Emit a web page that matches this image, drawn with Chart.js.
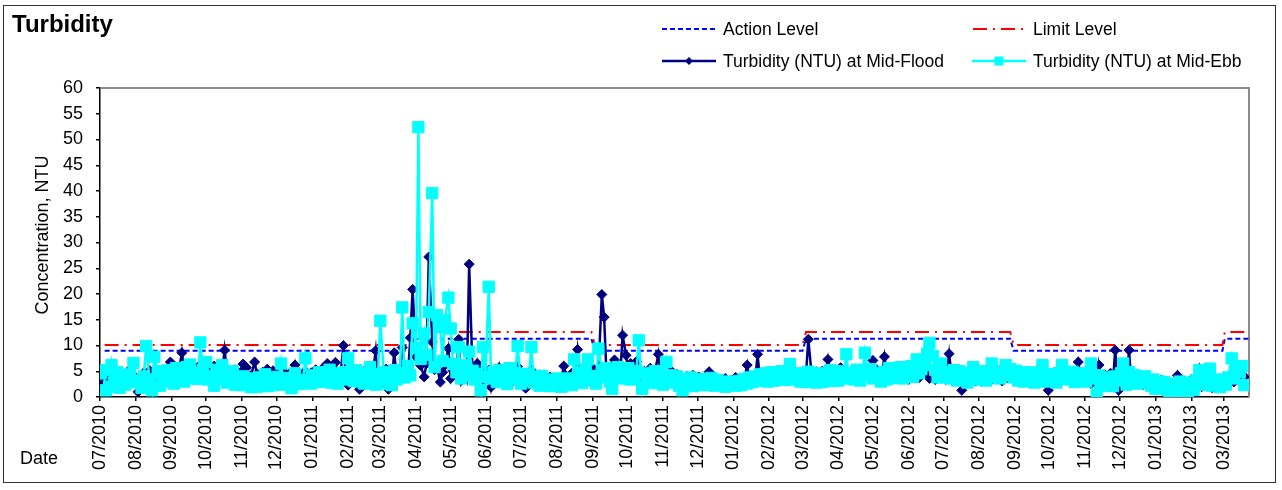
<!DOCTYPE html>
<html>
<head>
<meta charset="utf-8">
<script src="https://cdn.jsdelivr.net/npm/chart.js@4/dist/chart.umd.min.js"></script>
<style>
html,body{margin:0;padding:0;background:#fff;}
#wrap{position:relative;width:1282px;height:490px;overflow:hidden;font-family:'Liberation Sans',Arial,sans-serif;color:#000;}
#c{position:absolute;left:0;top:0;}
#frame{position:absolute;left:3px;top:5px;width:1271px;height:476px;border:1.5px solid #333;pointer-events:none;}
#title{position:absolute;left:12px;top:12px;font-weight:bold;font-size:24px;line-height:24px;}
.leg{position:absolute;height:20px;font-size:17.5px;display:flex;align-items:center;white-space:nowrap;}
.leg svg{margin-right:6px;}
#dateLabel{position:absolute;left:20px;top:447px;font-size:18px;line-height:22px;}
#yTitle{position:absolute;left:42px;top:235px;font-size:18px;line-height:22px;white-space:nowrap;transform:translate(-50%,-50%) rotate(-90deg);}
</style>
</head>
<body>
<div id="wrap">
  <canvas id="c" width="1282" height="490"></canvas>
  <div id="frame"></div>
  <div id="title">Turbidity</div>
  <div class="leg" style="left:661px;top:19px;"><svg width="56" height="14"><line x1="1" y1="7" x2="55" y2="7" stroke="#0000FF" stroke-width="2" stroke-dasharray="5,3"/></svg>Action Level</div>
  <div class="leg" style="left:971px;top:19px;"><svg width="56" height="14"><line x1="2" y1="7" x2="55" y2="7" stroke="#FF0000" stroke-width="2" stroke-dasharray="14,6,2,6"/></svg>Limit Level</div>
  <div class="leg" style="left:661px;top:51px;"><svg width="56" height="14"><line x1="1" y1="7" x2="55" y2="7" stroke="#000080" stroke-width="2.5"/><polygon points="28,3 32,7 28,11 24,7" fill="#000080"/></svg>Turbidity (NTU) at Mid-Flood</div>
  <div class="leg" style="left:971px;top:51px;"><svg width="56" height="14"><line x1="1" y1="7" x2="55" y2="7" stroke="#00FFFF" stroke-width="2.5"/><rect x="23.5" y="2.5" width="9" height="9" fill="#00FFFF"/></svg>Turbidity (NTU) at Mid-Ebb</div>
  <div id="dateLabel">Date</div>
  <div id="yTitle">Concentration, NTU</div>
</div>
<script>
// ---- Tick labels (months) and their day offsets from 2010-07-01 ----
const monthLabels = ['07/2010','08/2010','09/2010','10/2010','11/2010','12/2010',
  '01/2011','02/2011','03/2011','04/2011','05/2011','06/2011','07/2011','08/2011','09/2011','10/2011','11/2011','12/2011',
  '01/2012','02/2012','03/2012','04/2012','05/2012','06/2012','07/2012','08/2012','09/2012','10/2012','11/2012','12/2012',
  '01/2013','02/2013','03/2013'];
const monthStartDays = [0,31,62,92,123,153,184,215,243,274,304,335,365,396,427,457,488,518,549,580,609,640,670,701,731,762,793,823,854,884,915,946,974];
const axisEndDay = 996;

// ---- Sampling schedule: three surveys per week ----
const weeksSampled = 142;
const surveyDaysInWeek = [1, 3, 5];
const sampleDays = [];
for (let w = 0; w < weeksSampled; w++) for (const d of surveyDaysInWeek) sampleDays.push(w * 7 + d);

// ---- Turbidity at Mid-Flood (NTU), one row = 4 weeks ----
const midFlood = [
 2.3,4.5,3.0, 3.6,2.0,4.1, 2.8,4.4,1.9, 3.4,4.9,2.6,
 4.2,2.8,1.0, 3.0,4.7,2.4, 5.1,2.2,3.5, 2.6,4.9,3.8,
 4.5,3.1,6.8, 5.5,3.2,4.6, 8.6,5.2,3.7, 4.4,6.0,3.9,
 5.8,4.1,6.3, 4.6,5.9,4.0, 6.0,3.8,5.6, 4.9,9.1,5.0,
 4.3,3.4,5.3, 3.6,4.8,6.4, 5.7,3.7,4.2, 6.8,4.5,3.3,
 4.8,3.0,5.4, 3.3,5.1,3.9, 4.2,3.1,5.0, 3.6,4.5,2.7,
 6.2,3.4,4.5, 3.2,5.0,3.9, 4.7,3.5,5.3, 3.6,4.3,5.8,
 6.5,3.9,4.6, 6.7,4.2,3.3, 10.0,4.6,2.3, 3.2,4.8,2.8,
 1.5,3.7,5.0, 4.4,2.6,3.8, 9.0,3.4,2.6, 4.1,5.4,1.5,
 3.3,8.6,4.4, 5.6,9.6,6.2, 4.5,11.5,20.9, 7.8,8.8,6.1,
 3.9,6.5,27.2, 10.7,5.3,6.0, 2.9,4.8,6.2, 9.4,3.6,5.1,
 4.4,11.2,3.2, 5.6,3.8,25.8, 4.2,3.5,6.5, 3.0,5.4,3.6,
 5.2,1.9,4.4, 3.3,5.7,2.8, 4.6,3.2,5.3, 3.1,4.2,5.9,
 4.4,3.6,1.7, 3.8,5.2,2.9, 2.6,4.3,3.5, 3.2,2.5,3.9,
 2.8,3.6,2.2, 3.3,6.0,4.1, 3.0,4.6,3.4, 9.2,5.0,3.6,
 4.4,6.2,3.1, 5.4,3.5,4.8, 19.9,15.5,4.6, 3.3,5.5,7.2,
 6.1,4.4,12.0, 8.1,5.3,6.5, 4.6,6.9,5.2, 3.7,5.0,4.2,
 5.6,3.6,4.8, 8.3,4.1,3.2, 4.6,3.4,5.1, 3.0,4.4,2.7,
 3.6,2.6,4.0, 2.8,4.2,3.3, 3.9,2.5,3.4, 3.0,4.9,2.8,
 3.5,2.4,3.1, 2.7,3.6,2.3, 3.2,2.5,3.8, 2.4,3.4,2.9,
 6.2,3.1,3.9, 3.3,8.3,3.6, 4.2,2.9,3.7, 3.0,4.4,3.3,
 4.6,3.4,4.0, 3.1,4.2,3.5, 4.0,3.2,4.7, 3.6,4.4,11.2,
 4.1,3.3,4.9, 3.4,5.0,3.8, 7.3,4.2,5.2, 4.8,3.6,5.7,
 3.5,4.6,3.9, 5.1,3.4,4.6, 3.8,5.4,4.1, 4.4,3.6,7.1,
 5.3,4.0,3.3, 7.8,4.5,3.7, 4.1,5.5,3.6, 5.0,3.8,4.6,
 3.4,5.6,4.2, 4.8,3.7,5.9, 5.4,4.5,3.6, 4.9,3.4,6.0,
 4.2,5.6,3.5, 8.4,4.6,3.2, 4.0,5.3,1.3, 3.3,4.5,2.8,
 4.4,3.1,5.0, 3.0,4.7,3.6, 4.9,3.4,5.2, 3.6,4.8,3.1,
 5.2,3.7,4.6, 3.4,4.9,3.0, 4.4,2.9,4.0, 3.1,4.6,2.7,
 4.2,3.3,5.0, 3.5,1.3,4.3, 4.8,3.2,3.9, 3.3,5.2,3.7,
 4.5,3.0,4.1, 6.8,3.8,4.4, 3.2,4.8,2.6, 3.9,0.2,6.2,
 2.8,4.3,3.4, 4.6,2.5,9.1, 1.3,3.6,4.4, 3.0,9.1,2.8,
 4.2,2.6,3.5, 2.4,3.8,2.2, 3.4,2.0,3.1, 2.2,3.3,1.6,
 2.8,1.4,2.5, 1.8,4.2,2.0, 2.6,1.5,0.2, 3.4,2.2,2.9,
 5.5,2.0,3.2, 2.4,3.6,1.8, 3.1,2.2,2.8, 2.5,3.8,2.6,
 4.6,2.9,3.6, 3.2,4.4,3.9
];

// ---- Turbidity at Mid-Ebb (NTU), one row = 4 weeks ----
const midEbb = [
 4.6,5.2,1.3, 2.0,6.2,2.8, 4.8,1.8,3.3, 2.4,3.9,4.4,
 6.6,2.9,3.2, 1.8,4.0,9.9, 3.4,1.3,7.8, 4.6,2.2,5.0,
 3.0,5.2,4.1, 2.6,5.6,3.8, 4.4,3.0,5.8, 6.3,3.6,4.7,
 3.5,10.6,5.2, 6.8,3.4,4.1, 2.2,5.3,3.6, 6.2,4.3,2.8,
 3.9,5.0,2.4, 3.2,2.3,4.0, 2.5,3.6,1.9, 3.0,2.0,3.8,
 2.6,4.4,2.1, 3.5,2.3,3.9, 2.8,6.5,2.4, 3.7,2.6,1.7,
 4.6,3.0,2.5, 3.3,7.5,3.0, 2.6,4.2,3.4, 4.8,2.9,3.6,
 3.2,5.3,2.8, 4.0,2.6,4.6, 3.4,4.8,7.5, 4.2,3.1,5.2,
 3.0,4.6,2.6, 3.7,5.8,3.2, 2.4,4.4,14.8, 4.8,3.3,2.5,
 2.3,5.2,3.4, 4.6,17.4,3.8, 6.0,4.2,14.3, 9.5,52.4,7.4,
 12.3,8.2,16.5, 39.6,5.8,15.9, 13.6,7.0,14.9, 19.3,13.3,6.4,
 4.8,9.7,3.6, 6.2,4.2,8.8, 5.1,3.4,4.5, 1.3,9.7,3.9,
 21.4,3.6,4.8, 2.9,5.2,3.4, 4.3,2.5,5.6, 3.5,4.7,9.9,
 2.6,4.4,3.1, 4.5,9.7,2.8, 3.8,2.2,4.1, 2.7,3.4,2.1,
 3.2,2.4,3.6, 2.0,3.0,2.6, 3.6,2.3,7.3, 3.3,4.8,2.7,
 5.3,7.3,3.4, 4.1,2.6,9.4, 5.2,3.8,5.6, 3.0,1.6,4.4,
 5.8,3.6,4.9, 4.2,5.6,3.4, 3.8,5.0,11.0, 1.6,4.6,3.2,
 3.9,2.7,5.0, 4.4,3.1,2.4, 6.8,3.3,4.2, 2.8,4.0,2.2,
 1.3,3.4,2.6, 3.8,2.1,3.2, 2.6,3.5,2.3, 3.1,2.4,3.7,
 2.2,3.3,2.7, 2.9,2.0,3.0, 2.4,2.8,2.2, 3.1,2.3,3.5,
 2.6,3.8,2.9, 4.0,3.1,4.4, 3.4,4.6,3.0, 4.8,3.2,4.1,
 3.6,5.0,3.3, 4.3,6.4,3.7, 3.4,4.6,3.0, 4.2,2.9,4.9,
 3.3,4.5,2.8, 4.6,2.9,4.0, 3.5,5.2,3.1, 4.4,3.2,5.0,
 4.0,8.3,3.6, 4.7,3.4,5.3, 3.2,4.8,8.6, 4.2,5.4,3.6,
 3.8,4.6,3.0, 4.9,3.4,5.6, 3.7,5.2,4.3, 5.8,3.6,4.5,
 4.2,6.0,3.9, 7.3,4.6,5.4, 6.2,8.4,10.5, 8.0,5.3,3.8,
 6.5,3.8,4.8, 4.4,3.6,5.2, 3.2,5.0,3.6, 4.6,2.8,4.2,
 5.8,3.4,4.7, 3.6,5.0,3.2, 4.4,6.5,3.8, 5.0,3.6,4.5,
 6.2,4.2,5.4, 3.8,5.1,3.2, 4.6,3.0,4.8, 3.4,4.3,2.8,
 4.8,3.2,6.2, 3.0,4.4,3.6, 4.2,2.8,4.6, 6.2,3.6,4.4,
 3.4,4.9,2.9, 4.5,3.2,4.6, 3.0,4.2,6.5, 3.6,0.5,4.2,
 2.6,3.8,2.2, 3.4,2.1,4.0, 3.2,4.6,6.5, 2.4,4.8,3.6,
 4.2,2.6,3.8, 2.8,4.0,3.2, 2.2,3.4,1.6, 3.0,1.8,2.9,
 1.4,0.5,2.4, 2.6,1.2,3.0, 1.5,2.6,1.0, 2.8,1.4,3.2,
 5.2,2.4,3.6, 3.0,5.5,2.2, 2.4,3.4,1.9, 3.3,2.4,3.8,
 7.5,3.6,5.2, 4.8,6.0,2.3
];

// ---- Action / Limit levels (NTU) at change-over days ----
const levelDays   = [4, 271, 274, 426, 429, 609, 612, 789, 792, 973, 975, 996];
const actionLevel = [9.0, 9.0, 11.3, 11.3, 9.0, 9.0, 11.3, 11.3, 9.0, 9.0, 11.3, 11.3];
const limitLevel  = [10.1, 10.1, 12.6, 12.6, 10.1, 10.1, 12.6, 12.6, 10.1, 10.1, 12.6, 12.6];

// ---- Y ticks ----
const yMin = 0, yMax = 60, yStep = 5;

const toXY = (xs, ys) => xs.map((x, i) => ({ x: x, y: ys[i] }));
const FONT = "'Liberation Sans', Arial, sans-serif";
Chart.defaults.font.family = FONT;
Chart.defaults.font.size = 18;
Chart.defaults.color = '#000';

const plotFrame = {
  id: 'plotFrame',
  beforeDatasetsDraw(chart) {
    const { ctx, chartArea: a } = chart;
    ctx.save();
    ctx.strokeStyle = '#8a8a8a';
    ctx.lineWidth = 2;
    ctx.beginPath();
    ctx.moveTo(a.left, a.top);
    ctx.lineTo(a.right, a.top);
    ctx.lineTo(a.right, a.bottom);
    ctx.stroke();
    ctx.restore();
  }
};

new Chart(document.getElementById('c'), {
  type: 'line',
  data: {
    datasets: [
      { label: 'Turbidity (NTU) at Mid-Ebb', data: toXY(sampleDays, midEbb),
        borderColor: '#00FFFF', backgroundColor: '#00FFFF', borderWidth: 2.5,
        pointStyle: 'rect', pointRadius: 8, pointBorderWidth: 1,
        pointBackgroundColor: '#00FFFF', pointBorderColor: '#00FFFF', tension: 0 },
      { label: 'Turbidity (NTU) at Mid-Flood', data: toXY(sampleDays, midFlood),
        borderColor: '#000080', backgroundColor: '#000080', borderWidth: 2.5,
        pointStyle: 'rectRot', pointRadius: 5, pointBorderWidth: 1,
        pointBackgroundColor: '#000080', pointBorderColor: '#000080', tension: 0 },
      { label: 'Limit Level', data: toXY(levelDays, limitLevel),
        borderColor: '#FF0000', borderWidth: 2, borderDash: [14, 6, 2, 6],
        pointRadius: 0, tension: 0 },
      { label: 'Action Level', data: toXY(levelDays, actionLevel),
        borderColor: '#0000FF', borderWidth: 2, borderDash: [5, 3],
        pointRadius: 0, tension: 0 }
    ]
  },
  options: {
    responsive: false,
    devicePixelRatio: 1,
    animation: false,
    events: [],
    layout: { padding: { top: 88, right: 33, left: 0, bottom: 0 } },
    plugins: { legend: { display: false }, tooltip: { enabled: false }, title: { display: false } },
    scales: {
      x: {
        type: 'linear',
        min: 0,
        max: axisEndDay,
        afterBuildTicks: (scale) => { scale.ticks = monthStartDays.map(v => ({ value: v })); },
        afterFit: (scale) => { scale.height = 93; },
        ticks: {
          autoSkip: false, minRotation: 90, maxRotation: 90, padding: 4,
          font: { size: 18 },
          callback: (v) => { const i = monthStartDays.indexOf(v); return i >= 0 ? monthLabels[i] : ''; }
        },
        grid: { drawOnChartArea: false, drawTicks: true, tickLength: 4, color: '#000', lineWidth: 1.5 },
        border: { display: true, color: '#000', width: 1.5 }
      },
      y: {
        min: yMin,
        max: yMax,
        afterFit: (scale) => { scale.width = 100; },
        ticks: { stepSize: yStep, padding: 13, font: { size: 18 } },
        grid: { drawOnChartArea: false, drawTicks: true, tickLength: 4, color: '#000', lineWidth: 1.5 },
        border: { display: true, color: '#000', width: 1.5 },
        title: { display: false }
      }
    }
  },
  plugins: [plotFrame]
});
</script>
</body>
</html>
